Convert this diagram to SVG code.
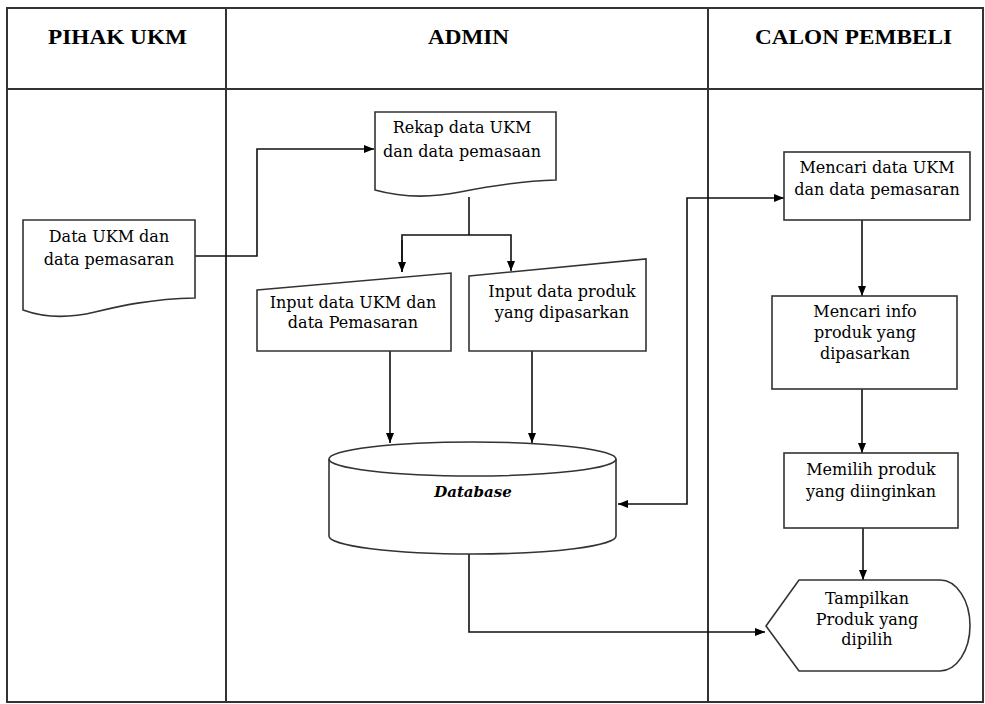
<svg xmlns="http://www.w3.org/2000/svg" width="985" height="704" viewBox="0 0 985 704">
<defs>
<marker id="arr" markerWidth="10" markerHeight="8" refX="10" refY="4" orient="auto-start-reverse" markerUnits="userSpaceOnUse">
<path d="M0,0 L10,4 L0,8 Z" fill="#000"/>
</marker>
<style>
.frame{fill:none;stroke:#333;stroke-width:2}
.shape{fill:#fff;stroke:#333;stroke-width:1.6}
.conn{fill:none;stroke:#111;stroke-width:1.6}
.hdr{font-family:"Liberation Serif","Times New Roman",serif;font-weight:bold;font-size:22px;fill:#000;text-anchor:middle}
.t{font-family:"DejaVu Serif","Liberation Serif",serif;font-size:16px;fill:#000;text-anchor:middle}
.db{font-family:"DejaVu Serif","Liberation Serif",serif;font-size:15px;font-weight:bold;font-style:italic;fill:#000;text-anchor:middle}
</style>
</defs>
<rect width="985" height="704" fill="#fff"/>
<g id="swimlanes">
<rect class="frame" x="7" y="8" width="976" height="694"/>
<line class="frame" x1="7" y1="89" x2="983" y2="89"/>
<line class="frame" x1="226" y1="8" x2="226" y2="702"/>
<line class="frame" x1="708" y1="8" x2="708" y2="702"/>
<text class="hdr" x="117.5" y="44" textLength="139" lengthAdjust="spacingAndGlyphs">PIHAK UKM</text>
<text class="hdr" x="468.5" y="44" textLength="81" lengthAdjust="spacingAndGlyphs">ADMIN</text>
<text class="hdr" x="853.5" y="44" textLength="197" lengthAdjust="spacingAndGlyphs">CALON PEMBELI</text>
</g>
<g id="connectors">
<polyline class="conn" points="195,256 257,256 257,149 374,149" marker-end="url(#arr)"/>
<polyline class="conn" points="469,197 469,235"/>
<polyline class="conn" points="402,272 402,235 511,235 511,271" marker-end="url(#arr)"/>
<line class="conn" x1="402" y1="240" x2="402" y2="272" marker-end="url(#arr)"/>
<line class="conn" x1="390" y1="351" x2="390" y2="443" marker-end="url(#arr)"/>
<line class="conn" x1="532" y1="351" x2="532" y2="443" marker-end="url(#arr)"/>
<polyline class="conn" points="618,504 687,504 687,198 784,198" marker-start="url(#arr)" marker-end="url(#arr)"/>
<line class="conn" x1="862" y1="220" x2="862" y2="296" marker-end="url(#arr)" stroke="#555"/>
<line class="conn" x1="862" y1="389" x2="862" y2="453" marker-end="url(#arr)"/>
<line class="conn" x1="863" y1="528" x2="863" y2="580" marker-end="url(#arr)"/>
<polyline class="conn" points="469,554 469,632 765,632" marker-end="url(#arr)"/>
</g>
<g id="data-ukm">
<path class="shape" d="M23,220 H195 V298 C150,299 120,306 95,312 C70,318 45,318 23,310 Z"/>
<text class="t" x="109" y="242">Data UKM dan</text>
<text class="t" x="109" y="265">data pemasaran</text>
</g>
<g id="rekap">
<path class="shape" d="M375,112 H556 V180 C520,181 490,186 460,192 C430,198 400,197 375,190 Z"/>
<text class="t" x="462" y="133">Rekap data UKM</text>
<text class="t" x="462" y="157">dan data pemasaan</text>
</g>
<g id="input-ukm">
<path class="shape" d="M257,290 L451,273 V351 H257 Z"/>
<text class="t" x="353" y="308">Input data UKM dan</text>
<text class="t" x="353" y="328">data Pemasaran</text>
</g>
<g id="input-produk">
<path class="shape" d="M469,276 L646,259 V351 H469 Z"/>
<text class="t" x="562" y="297">Input data produk</text>
<text class="t" x="562" y="318">yang dipasarkan</text>
</g>
<g id="database">
<path class="shape" d="M329,459 A143.5,17 0 0 1 616,459 V536 A143.5,18 0 0 1 329,536 Z"/>
<path class="shape" fill="none" d="M329,459 A143.5,17 0 0 0 616,459"/>
<text class="db" x="473" y="497">Database</text>
</g>
<g id="mencari-data">
<rect class="shape" x="784" y="152" width="186" height="68"/>
<text class="t" x="877" y="173">Mencari data UKM</text>
<text class="t" x="877" y="195">dan data pemasaran</text>
</g>
<g id="mencari-info">
<rect class="shape" x="772" y="296" width="185" height="93"/>
<text class="t" x="865" y="317">Mencari info</text>
<text class="t" x="865" y="338">produk yang</text>
<text class="t" x="865" y="359">dipasarkan</text>
</g>
<g id="memilih">
<rect class="shape" x="784" y="453" width="174" height="75"/>
<text class="t" x="871" y="475">Memilih produk</text>
<text class="t" x="871" y="497">yang diinginkan</text>
</g>
<g id="tampilkan">
<path class="shape" d="M766,626 L799,580 H940 A30,45.5 0 0 1 940,671 H799 Z"/>
<text class="t" x="867" y="604">Tampilkan</text>
<text class="t" x="867" y="625">Produk yang</text>
<text class="t" x="867" y="645">dipilih</text>
</g>
</svg>
